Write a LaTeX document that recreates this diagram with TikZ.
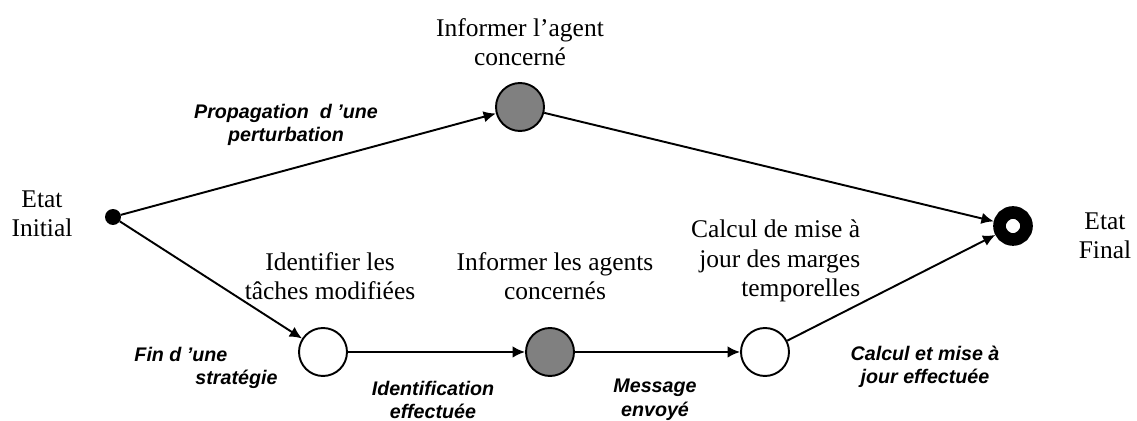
\documentclass[tikz,border=0pt]{standalone}
\usepackage{fontspec}
\setmainfont{Liberation Serif}
\setsansfont{Liberation Sans}
\usetikzlibrary{arrows.meta}
\tikzset{
  etat/.style={draw,circle,line width=1.1pt,minimum size=0.96cm,inner sep=0pt},
  titre/.style={align=center,font=\fontsize{14.5}{16.8}\selectfont},
  evt/.style={align=center,font=\fontsize{11.2}{13.4}\selectfont\sffamily\bfseries\itshape},
}
\begin{document}
\begin{tikzpicture}[x=0.02cm, y=-0.02cm, >={Latex[length=7pt,width=6.5pt]}, every path/.style={line width=1.1pt}]
			\useasboundingbox (0,0) rectangle (1137,421);
			% etats
			\node[draw,circle,fill=black,minimum size=0.28cm,inner sep=0pt] (init) at (113, 217) {};
			\node[etat,fill=gray] (infA) at (520, 107) {};
			\node[etat,fill=white] (ident) at (323, 352) {};
			\node[etat,fill=gray] (infB) at (550, 352) {};
			\node[etat,fill=white] (calc) at (765, 352) {};
			\node[draw,circle,line width=7.2pt,minimum size=0.54cm,inner sep=0pt] (final) at (1013, 226) {};
			% textes
			\node[titre] (tInit) at (42, 214) {Etat\\Initial};
			\node[titre] (tFinal) at (1105, 236) {Etat\\Final};
			\node[titre] (tInfA) at (520, 42) {Informer l’agent\\concerné};
			\node[titre] (tIdent) at (330, 276) {Identifier les\\tâches modifiées};
			\node[titre] (tInfB) at (555, 276) {Informer les agents\\concernés};
			\node[titre,align=right,anchor=east] (tCalc) at (867, 261) {Calcul de mise à\\jour des marges\\temporelles};
			\node[evt] (ePropag) at (286, 125) {Propagation~ d ’une\\perturbation};
			\node[evt,align=left] (eFin) at (206, 368) {Fin d ’une\\\hspace*{3.1em}stratégie};
			\node[evt] (eIdent) at (433, 400) {Identification\\effectuée};
			\node[evt] (eMsg) at (655, 400) {Message\\envoyé};
			\node[evt] (eCalc) at (925, 367) {Calcul et mise à\\jour effectuée};
			% transitions
			\draw[->] (init) -- (infA);
			\draw[->] (init) -- (ident);
			\draw[->] (ident) -- (infB);
			\draw[->] (infB) -- (calc);
			\draw[->] (infA) -- (final);
			\draw[->] (calc) -- (final);
\end{tikzpicture}
\end{document}
